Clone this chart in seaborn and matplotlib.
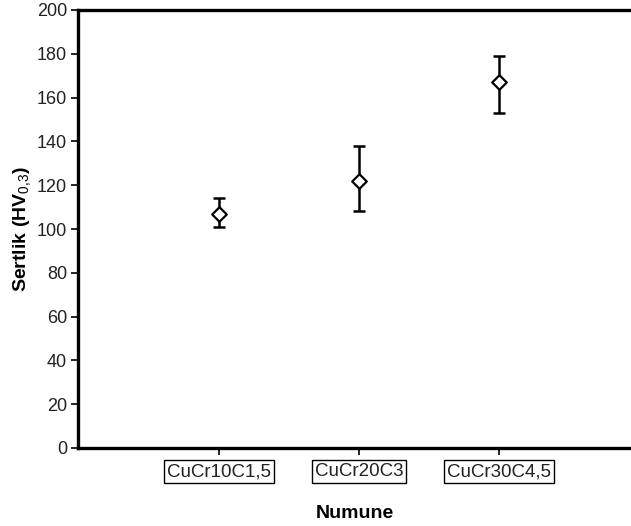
import matplotlib
matplotlib.use("Agg")
import matplotlib.pyplot as plt
import seaborn as sns
import pandas as pd
import numpy as np

categories = ["CuCr10C1,5", "CuCr20C3", "CuCr30C4,5"]
hardness = [107, 122, 167]
err_upper = [114, 138, 179]
err_lower = [101, 108, 153]
yticks = [0, 20, 40, 60, 80, 100, 120, 140, 160, 180, 200]

sns.set_theme(style="white")
plt.rcParams['font.family'] = ['Liberation Sans', 'DejaVu Sans']
plt.rcParams['mathtext.fontset'] = 'custom'
plt.rcParams['mathtext.rm'] = 'Liberation Sans'
plt.rcParams['mathtext.bf'] = 'Liberation Sans:bold'

df = pd.DataFrame({"Numune": categories, "Sertlik": hardness})
df["x"] = np.arange(len(categories))

fig = plt.figure(figsize=(6.31, 5.26), dpi=100)
ax = fig.add_axes([78/631, 78/526, (631-78)/631, (448-10)/526])

h = np.array(hardness)
yerr = np.vstack([h - np.array(err_lower), np.array(err_upper) - h])
ax.errorbar(df["x"], df["Sertlik"], yerr=yerr, fmt="none", ecolor="black",
            elinewidth=1.8, capsize=4.5, capthick=1.8, zorder=2)
sns.scatterplot(data=df, x="x", y="Sertlik", marker="D", s=55, facecolor="white",
                edgecolor="black", linewidth=1.6, ax=ax, zorder=3)

ax.set_xlim(-1.007, 2.943)
ax.set_ylim(0, 200)
ax.set_yticks(yticks)
ax.set_yticklabels([str(t) for t in yticks], fontsize=13, color="#222222")
ax.set_xticks(df["x"])
ax.set_xticklabels(categories, fontsize=13.5, color="#222222")
for lab in ax.get_xticklabels():
    lab.set_bbox(dict(boxstyle="square,pad=0.15", facecolor="white", edgecolor="black", linewidth=1.0))

for s in ["left", "top", "bottom"]:
    ax.spines[s].set_visible(True)
    ax.spines[s].set_color("black")
    ax.spines[s].set_linewidth(2.4)
ax.spines["right"].set_visible(False)

ax.tick_params(axis="both", which="major", direction="out", length=5, width=1.2, color="black", left=True, bottom=True)
ax.tick_params(axis="x", pad=6)
ax.tick_params(axis="y", pad=3)

ax.set_xlabel("Numune", fontsize=14, fontweight="bold", labelpad=18, color="black")
ax.set_ylabel("Sertlik (HV$_{\\mathrm{0{,}3}}$)", fontsize=14, fontweight="bold", labelpad=2, color="black")

fig.savefig("out.png", dpi=100)
